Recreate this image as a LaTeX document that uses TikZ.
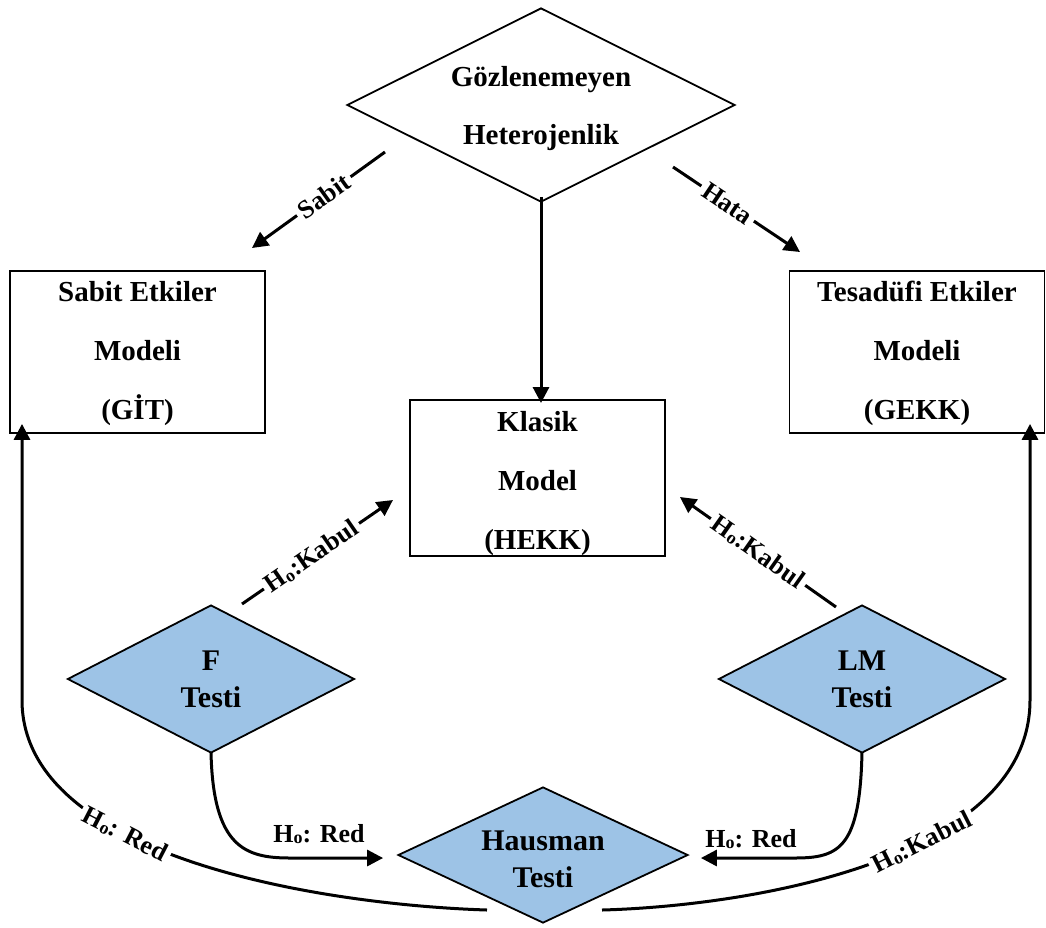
\documentclass[tikz,border=0pt]{standalone}
\usepackage{fontspec}
\setmainfont{Liberation Serif}
\usetikzlibrary{shapes.geometric,arrows.meta,calc}
\definecolor{testblue}{RGB}{157,195,230}
% small "o" index of the null hypothesis
\newcommand{\hnull}{H\raisebox{-1.5pt}{\fontsize{18}{18}\selectfont o}}
% invisible strut that lowers a text block inside its frame
\newcommand{\lift}[1]{\rule{0pt}{#1pt}}
\tikzset{
  box/.style={draw, line width=1.8pt, inner sep=0pt, align=center,
    minimum width=255pt, font=\bfseries\fontsize{29}{59}\selectfont},
  dia/.style={draw, shape=diamond, line width=1.8pt, inner sep=0pt, align=center,
    font=\bfseries\fontsize{29}{58}\selectfont},
  testdia/.style={dia, fill=testblue, aspect=1.94, minimum width=287pt, minimum height=148pt,
    font=\bfseries\fontsize{30}{37}\selectfont},
  conn/.style={line width=3pt, -{Triangle[length=16pt,width=16pt]}},
  lab/.style={fill=white, inner sep=4pt, font=\bfseries\fontsize{26}{30}\selectfont},
}
\begin{document}
\begin{tikzpicture}[x=1pt,y=-1pt]
\useasboundingbox (0,0) rectangle (1046,927);

% decision and model nodes
\node[dia, aspect=2, minimum width=388pt, minimum height=194pt] (G) at (541,105) {\lift{28}Gözlenemeyen\\Heterojenlik};
\node[box, minimum height=162pt] (SE) at (137.5,352) {\lift{24}Sabit Etkiler\\Modeli\\(GİT)};
\node[box, minimum height=162pt] (TE) at (917,352) {\lift{24}Tesadüfi Etkiler\\Modeli\\(GEKK)};
\node[box, minimum height=154pt] (K) at (537.5,478) {\lift{32}Klasik\\Model\\(HEKK)};
\node[testdia] (F) at (211,679) {F\\Testi};
\node[testdia] (LM) at (862,679) {LM\\Testi};
\node[testdia, aspect=2.13, minimum width=290pt, minimum height=136pt] (H) at (543,855) {\lift{28}Hausman\\Testi};

% end points of the labelled straight arrows
\coordinate (sabA) at (385,152);
\coordinate (sabB) at (252,248);
\coordinate (hatA) at (673,167);
\coordinate (hatB) at (800,252);
\coordinate (fkA) at (242,604);
\coordinate (fkB) at (393,500);
\coordinate (lmkA) at (836,607);
\coordinate (lmkB) at (680,497);

\draw[conn] (sabA) -- node[lab, sloped, pos=0.46] {Sabit} (sabB);
\draw[conn] (hatA) -- node[lab, sloped, pos=0.43] {Hata} (hatB);
\draw[conn] ([yshift=6pt]G.south) -- ([yshift=-4pt]G.south |- K.north);
\draw[conn] (fkA) -- node[lab, sloped, pos=0.46] {\hnull:Kabul} (fkB);
\draw[conn] (lmkA) -- node[lab, sloped, pos=0.5] {\hnull:Kabul} (lmkB);

% test outcomes leading into the Hausman test
\draw[conn] ([yshift=2pt]F.south) .. controls +(2,95) and +(-45,0) .. (290,858)
  -- ([xshift=-14pt]H.west |- 0,858);
\node[lab, fill=none] (fred) at (319,834) {\hnull: Red};
\draw[conn] ([yshift=2pt]LM.south) .. controls +(-2,95) and +(45,0) .. (795,858)
  -- ([xshift=12pt]H.east |- 0,858);
\node[lab, fill=none] (lmred) at (751,839) {\hnull: Red};

% Hausman outcomes back to the panel models
\coordinate (hL) at (487,910);
\coordinate (hR) at (602,910);
\draw[conn] (hL) .. controls (330,905) and (22,860) .. (22,700)
  node[lab, sloped, pos=0.63] {\hnull: Red}
  -- ([yshift=10pt]SE.south west -| 22,0);
\draw[conn] (hR) .. controls (750,906) and (1030,860) .. (1030,700)
  node[lab, sloped, pos=0.6] {\hnull:Kabul}
  -- ([yshift=10pt]TE.south east -| 1030,0);
\end{tikzpicture}
\end{document}
